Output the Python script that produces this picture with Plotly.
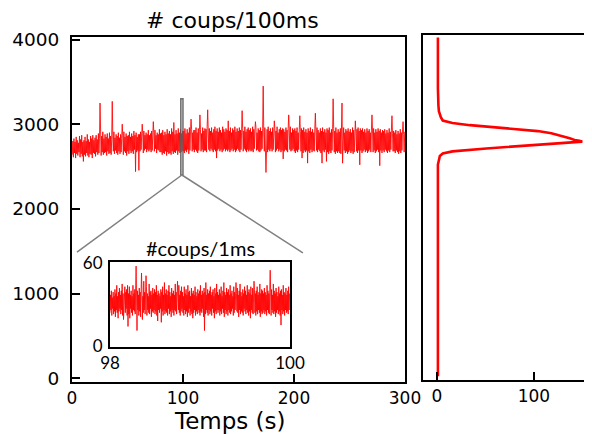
import numpy as np
import plotly.graph_objects as go

# ---------------- data ----------------
# main trace: counts per 100 ms, one sample read every 0.5 s (one row = 10 s)
counts_100ms = [
    2640, 2800, 2610, 2830, 2660, 2790, 2600, 2850, 2650, 2810, 2630, 2780, 2670, 2860, 2610, 2820, 2650, 2870, 2620, 2790,
    2560, 2810, 2640, 2850, 2620, 2800, 2660, 2880, 2630, 2820, 2610, 2790, 2650, 2860, 2640, 2830, 2600, 2870, 2660, 2810,
    2650, 2840, 2620, 2870, 2670, 2820, 2640, 2890, 2660, 2830, 3250, 2800, 2630, 2860, 2670, 2910, 2640, 2830, 2660, 2880,
    2670, 2850, 2630, 2890, 2680, 2830, 2650, 2900, 2660, 2860, 2640, 2820, 3270, 2870, 2680, 2910, 2650, 2840, 2690, 2880,
    2660, 2860, 2640, 2900, 2680, 2840, 2650, 2880, 2670, 2830, 3000, 2870, 2640, 2910, 2680, 2850, 2660, 2890, 2630, 2860,
    2680, 2870, 2650, 2910, 2690, 2850, 2660, 2890, 2680, 2860, 2650, 2920, 2700, 2870, 2440, 2900, 2670, 2850, 2690, 2880,
    2455, 2880, 2680, 2910, 2700, 2860, 3000, 2890, 2660, 2920, 2690, 2870, 2710, 2900, 2670, 2880, 2700, 2930, 2680, 2870,
    2700, 2890, 2670, 2920, 2690, 2860, 3030, 2900, 2680, 2930, 2710, 2870, 2660, 2900, 2700, 2880, 2690, 2940, 2670, 2890,
    2670, 2900, 2640, 2930, 2660, 2870, 2650, 2910, 2680, 2880, 2630, 2940, 2670, 2890, 2650, 2920, 2660, 2880, 2640, 2950,
    2680, 2910, 2650, 3020, 2670, 2880, 2660, 2930, 2690, 2890, 2640, 2950, 2680, 2900, 2660, 2940, 2670, 2890, 2690, 2920,
    2680, 2920, 2660, 2950, 2690, 2890, 2670, 2940, 2700, 2900, 2650, 2960, 2690, 2910, 3060, 2940, 2680, 2900, 2700, 2930,
    2670, 2930, 2700, 2960, 2680, 2900, 2660, 2950, 2690, 2910, 3110, 2940, 2680, 2890, 2700, 2960, 2670, 2920, 2690, 2950,
    2690, 2940, 2670, 2970, 3170, 2910, 2700, 2950, 2680, 2920, 2710, 2960, 2690, 2900, 2670, 2940, 2700, 2970, 2680, 2920,
    2600, 2950, 2690, 2910, 2710, 2960, 2680, 2930, 2700, 2900, 2670, 2970, 2690, 2940, 2710, 2910, 2680, 2950, 2700, 2930,
    2680, 3040, 2700, 2920, 2670, 2960, 2690, 2900, 2710, 2950, 2680, 2930, 2700, 2970, 2670, 2910, 2690, 2950, 2710, 2920,
    2690, 2960, 2670, 2930, 2700, 2900, 3160, 2950, 2680, 2920, 2710, 2970, 2690, 2910, 2670, 2940, 2700, 2960, 2680, 2930,
    2700, 2950, 2680, 2910, 2690, 2970, 2670, 2940, 2710, 2920, 3030, 2960, 2690, 2900, 2700, 2950, 2680, 2930, 2670, 2960,
    2690, 2920, 2710, 2950, 3450, 2910, 2680, 2960, 2700, 2430, 2690, 2940, 2670, 2970, 2700, 2920, 2680, 2950, 2710, 2910,
    2680, 2960, 2700, 2930, 3040, 2950, 2670, 2920, 2690, 2970, 2710, 2900, 2680, 2940, 2700, 2960, 2670, 2930, 2690, 2950,
    2590, 2940, 2680, 2910, 2700, 2960, 2690, 2930, 2670, 2950, 3110, 2920, 2700, 2970, 2680, 2900, 2690, 2950, 2710, 2930,
    2680, 2950, 2660, 2920, 2690, 2960, 2670, 2900, 2700, 2940, 3100, 2910, 2680, 2950, 2600, 2930, 2660, 2960, 2690, 2910,
    2670, 2940, 2690, 2900, 2540, 2950, 2680, 2920, 2660, 2960, 2700, 2910, 2670, 2940, 2690, 2900, 2680, 2950, 3130, 2920,
    2690, 2960, 2670, 2930, 2700, 2900, 2680, 2950, 2660, 2920, 2540, 2960, 2690, 2910, 2670, 2940, 2700, 2900, 2560, 2950,
    2670, 2930, 2650, 2960, 2680, 2900, 2660, 2940, 2690, 2910, 3300, 2950, 2670, 2920, 2650, 2960, 2680, 2900, 2660, 2940,
    2680, 2910, 2660, 2950, 2650, 2930, 3250, 2540, 2670, 2960, 2690, 2900, 2660, 2940, 2680, 2920, 2650, 2950, 2670, 2910,
    2690, 2940, 2660, 2900, 2680, 2960, 2650, 2930, 2670, 2950, 3040, 2910, 2680, 2940, 2660, 2960, 2690, 2920, 2520, 2950,
    2690, 2930, 2660, 2950, 2680, 2910, 2700, 2940, 2670, 2900, 2690, 2950, 2660, 2920, 2680, 2940, 2700, 2900, 2670, 2930,
    3110, 2920, 2670, 2950, 2690, 2900, 2660, 2940, 2680, 2910, 2700, 2950, 2670, 2920, 2510, 2940, 2690, 2900, 2660, 2930,
    2690, 2920, 2670, 2940, 2700, 2890, 2680, 2930, 2660, 2900, 2690, 2950, 2670, 2910, 2700, 2930, 3100, 2890, 2680, 2920,
    2680, 2900, 2660, 2930, 2690, 2880, 2670, 2920, 2650, 2890, 2680, 2940, 2660, 2900, 2690, 2920, 3030, 2880, 2670, 2910,
]
time_s = (np.arange(len(counts_100ms)) + 0.5) * 0.5

# inset: counts per 1 ms between 98 s and 100 s (one sample read every 5 ms)
counts_1ms = [
    24, 37, 26, 40, 22, 35, 27, 39, 23, 36, 25, 41, 21, 38, 26, 44, 24, 36, 20, 39,
    25, 42, 27, 37, 23, 40, 26, 45, 22, 38, 19, 36, 25, 43, 24, 39, 27, 41, 22, 44,
    14, 38, 23, 43, 20, 37, 27, 40, 24, 36, 22, 44, 26, 38, 25, 41, 23, 46, 58, 37,
    11, 40, 26, 37, 22, 42, 25, 39, 21, 38, 53, 41, 19, 36, 24, 47, 26, 39, 23, 40,
    51, 43, 22, 38, 26, 36, 24, 45, 23, 39, 27, 40, 21, 37, 25, 42, 24, 38, 26, 41,
    23, 39, 25, 44, 22, 37, 18, 40, 26, 38, 24, 36, 27, 41, 17, 39, 25, 43, 22, 37,
    26, 46, 23, 38, 25, 41, 24, 37, 22, 40, 27, 44, 23, 39, 25, 36, 21, 42, 26, 38,
    24, 40, 22, 37, 26, 45, 25, 39, 23, 41, 47, 38, 26, 44, 24, 37, 22, 40, 25, 43,
    27, 39, 24, 36, 22, 43, 26, 38, 23, 41, 25, 37, 21, 44, 24, 39, 27, 40, 22, 36,
    25, 42, 23, 38, 20, 40, 24, 37, 26, 43, 22, 39, 25, 36, 23, 41, 26, 38, 24, 40,
    22, 44, 25, 37, 24, 40, 27, 38, 21, 42, 11, 39, 23, 46, 26, 37, 24, 41, 22, 38,
    26, 40, 23, 43, 25, 37, 22, 39, 27, 41, 24, 36, 20, 42, 25, 38, 23, 45, 26, 39,
    24, 37, 26, 41, 22, 38, 25, 43, 23, 36, 27, 40, 24, 46, 21, 39, 26, 37, 23, 42,
    25, 39, 22, 41, 26, 37, 24, 44, 23, 38, 25, 40, 27, 36, 22, 43, 24, 39, 26, 41,
    46, 38, 25, 42, 24, 37, 21, 40, 26, 45, 23, 39, 25, 36, 24, 41, 22, 38, 27, 43,
    25, 40, 23, 37, 26, 44, 24, 39, 22, 41, 25, 38, 20, 43, 26, 37, 24, 42, 23, 39,
    47, 41, 24, 38, 22, 40, 25, 43, 23, 37, 26, 39, 24, 45, 21, 38, 25, 41, 23, 40,
    24, 38, 26, 42, 23, 39, 25, 37, 22, 44, 26, 40, 24, 38, 23, 41, 55, 39, 22, 41,
    26, 37, 24, 45, 23, 40, 25, 38, 21, 42, 24, 39, 26, 36, 23, 43, 25, 38, 22, 40,
    15, 41, 26, 37, 23, 44, 25, 39, 22, 38, 26, 42, 24, 37, 25, 40, 23, 43, 26, 38,
]
time_inset = 98 + np.arange(len(counts_1ms)) * 0.005

# histogram of the 100 ms counts (level -> number of occurrences)
hist_level = [0, 200, 400, 600, 800, 1000, 1200, 1400, 1600, 1800, 2000, 2200,
              2400, 2500, 2550, 2600, 2630, 2655, 2690, 2727, 2750, 2770, 2780,
              2790, 2810, 2845, 2870, 2895, 2930, 2965, 2990, 3020, 3060, 3105,
              3130, 3200, 3300, 3400, 3600, 3800, 4000]
hist_count = [1, 1, 1, 1, 1, 1, 1, 1, 1, 1, 1, 1,
              1, 1, 2, 3, 6, 16, 51, 96, 127, 150, 147,
              142, 137, 127, 118, 104, 68, 34, 16, 6, 4, 3,
              2, 1.5, 1, 1, 1, 1, 1]

main_xticks = [0, 100, 200, 300]
main_yticks = [0, 1000, 2000, 3000, 4000]
hist_xticks = [0, 100]
inset_xticks = [98, 100]
inset_yticks = [0, 60]
zoom_window = (98, 100)          # time window shown in the inset
zoom_levels = (2400, 3300)       # vertical extent of the zoom marker

# ---------------- figure ----------------
# the page adds an 8 px body margin, so the figure is 8 px smaller on each
# axis and every pixel position below is given in window pixels
PAGE = 8
W, H = 592 - PAGE, 434 - PAGE
RED = "#ff0000"

def px_x(a, b):
    return [max(0.0, (a - PAGE) / W), min(1.0, (b - PAGE) / W)]

def px_y(top, bottom):
    return [(H - (bottom - PAGE)) / H, (H - (top - PAGE)) / H]

def pos(x, y):
    return (x - PAGE) / W, (H - (y - PAGE)) / H

fig = go.Figure()
fig.add_trace(go.Scatter(x=time_s, y=counts_100ms, mode="lines",
                         line=dict(color="rgba(255,0,0,0.85)", width=1),
                         xaxis="x", yaxis="y", showlegend=False))
fig.add_trace(go.Scatter(x=hist_count, y=hist_level, mode="lines",
                         line=dict(color=RED, width=2.6),
                         xaxis="x2", yaxis="y2", showlegend=False))
fig.add_trace(go.Scatter(x=time_inset, y=counts_1ms, mode="lines",
                         line=dict(color="rgba(255,0,0,0.85)", width=1),
                         xaxis="x3", yaxis="y3", showlegend=False))

axis_common = dict(showgrid=False, zeroline=False, showline=True,
                   linecolor="black", linewidth=2, ticks="inside",
                   tickcolor="black", tickwidth=2, ticklen=8,
                   automargin=False)
xtick_font = dict(family="DejaVu Sans", size=17, color="black")
ytick_font = dict(family="DejaVu Sans", size=18.5, color="black")
thin_font = dict(family="Lato", size=17, color="black")

fig.update_layout(
    width=W, height=H, margin=dict(l=0, r=0, t=0, b=0),
    paper_bgcolor="white", plot_bgcolor="white",
    xaxis=dict(axis_common, domain=px_x(72, 405), range=[0, 300],
               tickvals=main_xticks, tickfont=xtick_font, mirror=True,
               anchor="y"),
    yaxis=dict(axis_common, domain=px_y(37, 382), range=[-45, 4030],
               tickvals=main_yticks, tickfont=ytick_font, mirror=True,
               anchor="x", ticklabelstandoff=7),
    xaxis2=dict(axis_common, domain=px_x(423, 592), range=[-14.4, 160],
                tickvals=hist_xticks, tickfont=xtick_font, mirror=True,
                anchor="y2"),
    yaxis2=dict(axis_common, domain=px_y(35, 380), range=[-45, 4030],
                showticklabels=False, ticks="", mirror=False, anchor="x2"),
    xaxis3=dict(axis_common, domain=px_x(110, 290), range=list(zoom_window),
                tickvals=inset_xticks, tickfont=thin_font, ticks="",
                mirror=True, anchor="y3"),
    yaxis3=dict(axis_common, domain=px_y(262, 347), range=[-1, 61],
                tickvals=inset_yticks, tickfont=thin_font, ticks="",
                mirror=True, anchor="x3", ticklabelstandoff=2),
)

# zoom marker and connecting lines
mid = (zoom_window[0] + zoom_window[1]) / 2
fig.add_shape(type="rect", xref="x", yref="y",
              x0=zoom_window[0], x1=zoom_window[1],
              y0=zoom_levels[0], y1=zoom_levels[1],
              line=dict(color="rgba(90,90,90,0.85)", width=1.5),
              fillcolor="rgba(120,120,120,0.25)", layer="above")
fig.add_shape(type="line", xref="x", yref="y", x0=mid, y0=zoom_levels[0],
              x1=4.5, y1=1490, line=dict(color="#808080", width=1.5))
fig.add_shape(type="line", xref="x", yref="y", x0=mid, y0=zoom_levels[0],
              x1=208, y1=1480, line=dict(color="#808080", width=1.5))

# titles
def label(text, x, y, font):
    px, py = pos(x, y)
    fig.add_annotation(text=text, xref="paper", yref="paper", x=px, y=py,
                       xanchor="center", yanchor="middle", showarrow=False,
                       font=font)

label("# coups/100ms", 232, 21, dict(family="DejaVu Sans", size=22, color="black"))
label("Temps (s)", 230, 421, dict(family="DejaVu Sans", size=23, color="black"))
label("#coups/1ms", 200, 248, dict(family="Lato", size=20, color="black"))

fig.write_html("out.html")
